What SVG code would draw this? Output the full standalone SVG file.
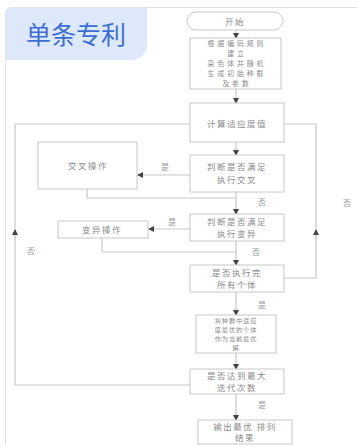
<svg xmlns="http://www.w3.org/2000/svg" width="357" height="445" viewBox="0 0 357 445">
<defs>
<style>
.box{fill:#fff;stroke:#c8c8c8;stroke-width:1}
.ln{fill:none;stroke:#c8c8c8;stroke-width:1.2}
.t{font-family:"Noto Sans CJK SC","Liberation Sans",sans-serif;font-size:8.5px;fill:#8a8a8a;text-anchor:middle;letter-spacing:1.5px}
.s{font-size:6.2px;letter-spacing:0.9px}
.m{font-size:6.8px;letter-spacing:3px}
.lb{font-family:"Noto Sans CJK SC","Liberation Sans",sans-serif;font-size:8px;fill:#9a9a9a;text-anchor:middle}
</style>
<marker id="ah" viewBox="0 0 6 6" refX="5" refY="3" markerWidth="5" markerHeight="5" orient="auto">
<path d="M0,0 L6,3 L0,6 z" fill="#444"/>
</marker>
</defs>
<rect x="0" y="0" width="357" height="445" fill="#fff"/>
<rect x="5.5" y="7.5" width="400" height="460" rx="6" fill="#fff" stroke="#e2e2e2"/>
<g id="badge">
<path d="M5.5,13.5 a6,6 0 0 1 6,-6 L147,7.5 L147,45 a15,15 0 0 1 -15,15 L5.5,60 z" fill="#dde8fa"/>
<text x="26" y="44" font-family="Noto Sans CJK SC, sans-serif" font-size="25" fill="#3a6fd6">单条专利</text>
</g>
<g id="connectors">
<line class="ln" x1="236" y1="30" x2="236" y2="38" marker-end="url(#ah)"/>
<line class="ln" x1="236" y1="89" x2="236" y2="103" marker-end="url(#ah)"/>
<line class="ln" x1="236" y1="142" x2="236" y2="155" marker-end="url(#ah)"/>
<line class="ln" x1="236" y1="192" x2="236" y2="214" marker-end="url(#ah)"/>
<line class="ln" x1="236" y1="241" x2="236" y2="265" marker-end="url(#ah)"/>
<line class="ln" x1="236" y1="292" x2="236" y2="315" marker-end="url(#ah)"/>
<line class="ln" x1="236" y1="353" x2="236" y2="369" marker-end="url(#ah)"/>
<line class="ln" x1="236" y1="394" x2="236" y2="420" marker-end="url(#ah)"/>
<line class="ln" x1="190" y1="175" x2="138" y2="175" marker-end="url(#ah)"/>
<polyline class="ln" points="87,189 87,198 236,198"/>
<line class="ln" x1="190" y1="229" x2="149" y2="229" marker-end="url(#ah)"/>
<polyline class="ln" points="102,238 102,252 236,252"/>
<polyline class="ln" points="284,278 316,278 316,124 284,124"/>
<line class="ln" x1="316" y1="240" x2="316" y2="230" marker-end="url(#ah)"/>
<polyline class="ln" points="190,385 15,385 15,124 190,124"/>
<line class="ln" x1="15" y1="240" x2="15" y2="230" marker-end="url(#ah)"/>
<text class="lb" x="165" y="170">是</text>
<text class="lb" x="262" y="205">否</text>
<text class="lb" x="172" y="225">是</text>
<text class="lb" x="256" y="255">否</text>
<text class="lb" x="347" y="206">否</text>
<text class="lb" x="262" y="308">是</text>
<text class="lb" x="31" y="254">否</text>
<text class="lb" x="262" y="408">是</text>
</g>
<g id="start">
<rect class="box" x="187" y="12" width="96" height="18" rx="9"/>
<text class="t" x="235" y="24.5">开始</text>
</g>
<g id="init">
<rect class="box" x="190" y="38" width="91" height="51"/>
<text class="t m" x="237" y="46">根据编码规则</text>
<text class="t m" x="237" y="56">建立</text>
<text class="t m" x="237" y="66">染色体并随机</text>
<text class="t m" x="237" y="76">生成初始种群</text>
<text class="t m" x="237" y="86">及参数</text>
</g>
<g id="fitness">
<rect class="box" x="190" y="103" width="94" height="39"/>
<text class="t" x="237" y="127">计算适应度值</text>
</g>
<g id="judge-cross">
<rect class="box" x="190" y="155" width="94" height="37"/>
<text class="t" x="237" y="170">判断是否满足</text>
<text class="t" x="237" y="183">执行交叉</text>
</g>
<g id="cross">
<rect class="box" x="38" y="142" width="99" height="47"/>
<text class="t" x="88" y="169">交叉操作</text>
</g>
<g id="judge-mut">
<rect class="box" x="190" y="214" width="94" height="27"/>
<text class="t" x="237" y="225">判断是否满足</text>
<text class="t" x="237" y="237">执行变异</text>
</g>
<g id="mutate">
<rect class="box" x="58" y="221" width="90" height="17"/>
<text class="t" x="102" y="232.5">变异操作</text>
</g>
<g id="judge-gen">
<rect class="box" x="190" y="265" width="94" height="27"/>
<text class="t" x="237" y="276">是否执行完</text>
<text class="t" x="237" y="288">所有个体</text>
</g>
<g id="best">
<rect class="box" x="196" y="315" width="80" height="38"/>
<text class="t s" x="236" y="322.5">将种群中适应</text>
<text class="t s" x="236" y="331.5">度最优的个体</text>
<text class="t s" x="236" y="340.5">作为当前最优</text>
<text class="t s" x="236" y="349.5">解</text>
</g>
<g id="judge-end">
<rect class="box" x="190" y="369" width="94" height="25"/>
<text class="t" x="237" y="379">是否达到最大</text>
<text class="t" x="237" y="391">迭代次数</text>
</g>
<g id="output">
<rect class="box" x="198" y="420" width="94" height="24"/>
<text class="t" x="245" y="430">输出最优  排列</text>
<text class="t" x="245" y="441">结果</text>
</g>
</svg>
